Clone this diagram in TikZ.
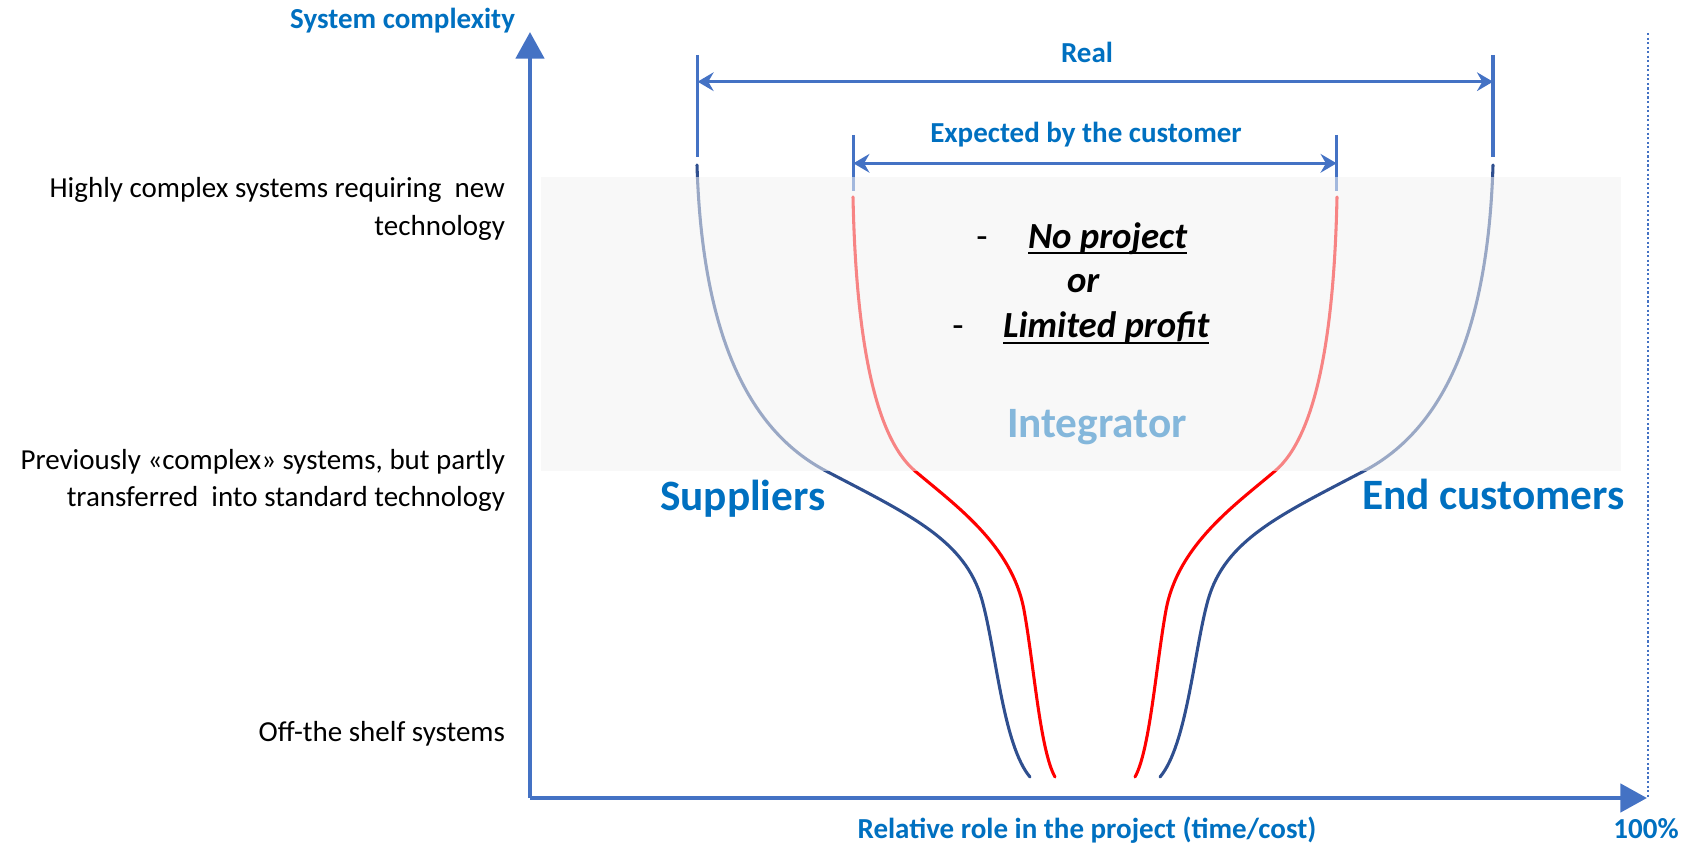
\documentclass[tikz,border=0pt]{standalone}
\usepackage{fontspec}
\setmainfont{Carlito}
\usetikzlibrary{arrows.meta,calc}
\definecolor{axisblue}{HTML}{4472C4}
\definecolor{txtblue}{HTML}{0070C0}
\definecolor{navyc}{HTML}{2F4F8F}
\definecolor{bandc}{HTML}{F2F2F2}
\begin{document}
\begin{tikzpicture}[x=0.75pt,y=-0.75pt,
  lbl/.style={inner sep=0pt, outer sep=0pt, font=\fontsize{21.75}{26}\selectfont},
  bluelbl/.style={inner sep=0pt, outer sep=0pt, text=txtblue, font=\fontsize{21.75}{26}\selectfont\bfseries},
  biglbl/.style={inner sep=0pt, outer sep=0pt, text=txtblue, font=\fontsize{32.5}{38}\selectfont\bfseries},
  ital/.style={inner sep=0pt, outer sep=0pt, font=\fontsize{27.6}{32}\selectfont\bfseries\itshape},
  dashlbl/.style={inner sep=0pt, outer sep=0pt, font=\fontsize{27.6}{32}\selectfont},
  axisline/.style={axisblue, line width=3.6pt, -{Triangle[length=20pt,width=21pt]}},
  barline/.style={axisblue, line width=2.6pt},
  dimline/.style={axisblue, line width=2pt, {Stealth[length=12pt,width=14pt,inset=4pt]}-{Stealth[length=12pt,width=14pt,inset=4pt]}},
  curveline/.style={line width=2.3pt, line cap=round},
  uline/.style={line width=1.6pt}
]
\useasboundingbox (0,0) rectangle (1696,845);

% coordinates
\coordinate (O) at (530,798);
\coordinate (ytip) at (530,32);
\coordinate (xtip) at (1647,798);
\coordinate (dtop) at (1648,33);
\coordinate (dbot) at (1648,798);
\coordinate (rlt) at (697.6,55);
\coordinate (rlb) at (697.6,157);
\coordinate (rrt) at (1493,55);
\coordinate (rrb) at (1493,157);
\coordinate (rl) at (697.6,81.7);
\coordinate (rr) at (1493,81.7);
\coordinate (elt) at (853.4,135);
\coordinate (elb) at (853.4,190.7);
\coordinate (ert) at (1336.6,135);
\coordinate (erb) at (1336.6,190.7);
\coordinate (el) at (853.4,163.3);
\coordinate (er) at (1336.6,163.3);

% dotted 100% line
\draw[axisblue, line width=2.2pt, dash pattern=on 1.6pt off 1.8pt] (dtop) -- (dbot);

% curves
\draw[curveline, navyc] (697,165) .. controls (702,330) and (746,429) .. (826,471)
  .. controls (910,515) and (965,540) .. (982,600)
  .. controls (996,650) and (1003,745) .. (1030,777);
\draw[curveline, navyc] (1493,165) .. controls (1488,330) and (1444,429) .. (1364,471)
  .. controls (1280,515) and (1225,540) .. (1208,600)
  .. controls (1194,650) and (1187,745) .. (1160,777);
\draw[curveline, red] (853,197) .. controls (856,340) and (875,437) .. (915,471)
  .. controls (955,505) and (1012,545) .. (1024,610)
  .. controls (1034,665) and (1040,750) .. (1055,777);
\draw[curveline, red] (1337,197) .. controls (1334,340) and (1315,437) .. (1275,471)
  .. controls (1235,505) and (1178,545) .. (1166,610)
  .. controls (1156,665) and (1150,750) .. (1135,777);

% dimension bars and arrows
\draw[barline] (rlt) -- (rlb);
\draw[barline] (rrt) -- (rrb);
\draw[barline] (elt) -- (elb);
\draw[barline] (ert) -- (erb);
\draw[dimline] (rl) -- (rr);
\draw[dimline] (el) -- (er);

% Integrator (under band)
\node[biglbl, anchor=base] (integ) at (1097,437) {Integrator};

% band
\fill[bandc, opacity=0.55] (541,177) rectangle (1621,471);

% axes
\draw[axisline] (O) -- (ytip);
\draw[axisline] (O) -- (xtip);

% axis labels
\node[bluelbl, anchor=base east] (ylab) at (515,28.5) {System complexity};
\node[bluelbl, anchor=base] (xlab) at (1087,838) {Relative role in the project (time/cost)};
\node[bluelbl, anchor=base] (pct) at (1646,838) {100\%};
\node[bluelbl, anchor=base] (real) at (1087,63) {Real};
\node[bluelbl, anchor=base] (expc) at (1086,143) {Expected by the customer};

% left labels
\node[lbl, anchor=base east] (h1) at (505,198) {Highly complex systems requiring\ \ new};
\node[lbl, anchor=base east] (h2) at (505,235) {technology};
\node[lbl, anchor=base east] (p1) at (505,469) {Previously «complex» systems, but partly};
\node[lbl, anchor=base east] (p2) at (505,506) {transferred\ \ into standard technology};
\node[lbl, anchor=base east] (o1) at (505,741) {Off-the shelf systems};

% big labels
\node[biglbl, anchor=base west] (sup) at (660,510) {Suppliers};
\node[biglbl, anchor=base west] (endc) at (1362,509) {End customers};

% middle text
\node[dashlbl, anchor=base] (d1) at (982,248) {-};
\node[ital, anchor=base west] (np) at (1028,248) {No project};
\node[ital, anchor=base west] (orr) at (1067,292) {or};
\node[dashlbl, anchor=base] (d2) at (958,337) {-};
\node[ital, anchor=base west] (lp) at (1003,337) {Limited profit};
\draw[uline] ($(np.base west)+(0,5)$) -- ($(np.base east)+(0,5)$);
\draw[uline] ($(lp.base west)+(0,6)$) -- ($(lp.base east)+(0,6)$);
\end{tikzpicture}
\end{document}
